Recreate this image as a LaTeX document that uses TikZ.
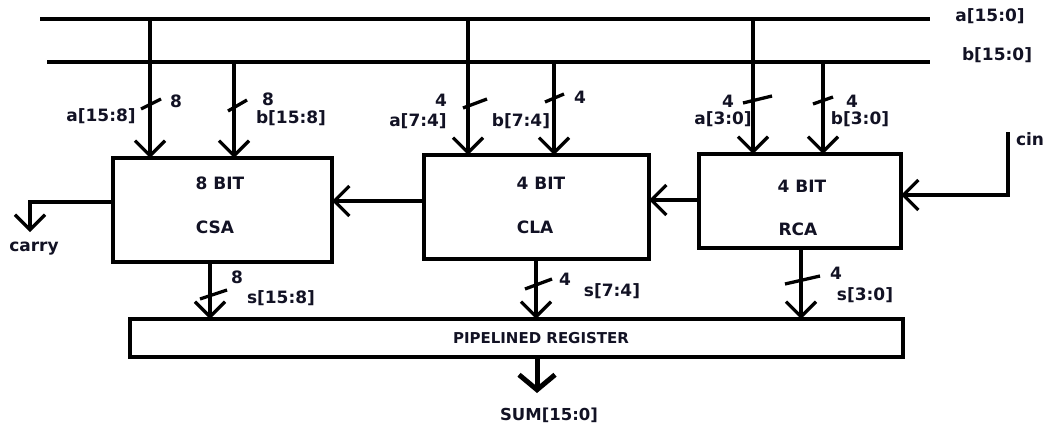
\documentclass[tikz,border=0pt]{standalone}
\usepackage{fontspec}
\setmainfont{DejaVu Sans}
\usetikzlibrary{arrows.meta}
\definecolor{ink}{rgb}{0.07,0.07,0.14}
\begin{document}
\begin{tikzpicture}[x=1pt,y=-1pt,line width=3.3pt,
  arr/.style={-{Straight Barb[length=15pt,width=30pt,line width=3.3pt]}},
  bigarr/.style={line width=5pt,-{Straight Barb[length=15pt,width=36pt,line width=5pt]}},
  blk/.style={draw,line width=3.3pt,inner sep=0pt,outer sep=0pt,anchor=north west},
  lbl/.style={font=\fontsize{17}{20}\selectfont\bfseries,text=ink,inner sep=0pt},
  reglbl/.style={font=\fontsize{15}{18}\selectfont\bfseries,text=ink,inner sep=0pt},
  sumlbl/.style={font=\fontsize{16.5}{19}\selectfont\bfseries,text=ink,inner sep=0pt},
  slash/.style={line width=3.3pt}]
\useasboundingbox (0,0) rectangle (1046,428);

% buses
\coordinate (aL) at (40,19);
\coordinate (aR) at (930,19);
\coordinate (bL) at (47,62);
\coordinate (bR) at (930,62);
\draw (aL) -- (aR);
\draw (bL) -- (bR);
\node[lbl] (alab) at (990,16) {a[15:0]};
\node[lbl] (blab) at (997,55) {b[15:0]};

% blocks
\node[blk,minimum width=219pt,minimum height=104pt] (csa) at (113,158) {};
\node[blk,minimum width=225pt,minimum height=104pt] (cla) at (424,155) {};
\node[blk,minimum width=202pt,minimum height=94pt] (rca) at (699,154) {};
\node[blk,minimum width=773pt,minimum height=38pt] (reg) at (130,319) {};

\node[lbl] (csa1) at (220,183) {8 BIT};
\node[lbl] (csa2) at (215,227) {CSA};
\node[lbl] (cla1) at (541,183) {4 BIT};
\node[lbl] (cla2) at (535,227) {CLA};
\node[lbl] (rca1) at (802,186) {4 BIT};
\node[lbl] (rca2) at (798,229) {RCA};
\node[reglbl] (regl) at (541,338) {PIPELINED REGISTER};

% inputs
\coordinate (ia1) at (150,19);
\coordinate (ib1) at (234,62);
\coordinate (ia2) at (468,19);
\coordinate (ib2) at (554,62);
\coordinate (ia3) at (753,19);
\coordinate (ib3) at (823,62);
\draw[arr] (ia1) -- (ia1 |- csa.north);
\draw[arr] (ib1) -- (ib1 |- csa.north);
\draw[arr] (ia2) -- (ia2 |- cla.north);
\draw[arr] (ib2) -- (ib2 |- cla.north);
\draw[arr] (ia3) -- (ia3 |- rca.north);
\draw[arr] (ib3) -- (ib3 |- rca.north);

% input slashes
\draw[slash] (141,109) -- (161,99);
\draw[slash] (228,111) -- (247,100);
\draw[slash] (463,108) -- (487,99);
\draw[slash] (545,102) -- (564,94);
\draw[slash] (743,103) -- (772,96);
\draw[slash] (813,104) -- (833,97);

\node[lbl] (n1) at (176,101) {8};
\node[lbl] (la1) at (101,116) {a[15:8]};
\node[lbl] (n2) at (268,99) {8};
\node[lbl] (lb1) at (291,118) {b[15:8]};
\node[lbl] (n3) at (441,100) {4};
\node[lbl] (la2) at (418,121) {a[7:4]};
\node[lbl] (n4) at (580,97) {4};
\node[lbl] (lb2) at (521,121) {b[7:4]};
\node[lbl] (n5) at (728,101) {4};
\node[lbl] (la3) at (723,119) {a[3:0]};
\node[lbl] (n6) at (852,101) {4};
\node[lbl] (lb3) at (860,119) {b[3:0]};

% carry chain
\coordinate (c1) at (649,200);
\draw[arr] (c1 -| rca.west) -- (c1);
\coordinate (c2) at (332,201);
\draw[arr] (c2 -| cla.west) -- (c2);
\coordinate (cinT) at (1008,132);
\coordinate (cinB) at (1008,195);
\draw[arr] (cinT) -- (cinB) -- (cinB -| rca.east);
\node[lbl] (cinl) at (1030,139) {cin};
\coordinate (co1) at (30,202);
\coordinate (co2) at (30,232);
\draw[arr] (co1 -| csa.west) -- (co1) -- (co2);
\node[lbl] (carryl) at (34,249) {carry};

% outputs
\coordinate (o1) at (210,262);
\coordinate (o2) at (536,259);
\coordinate (o3) at (801,248);
\draw[arr] (o1) -- (o1 |- reg.north);
\draw[arr] (o2) -- (o2 |- reg.north);
\draw[arr] (o3) -- (o3 |- reg.north);
\draw[slash] (200,299) -- (227,290);
\draw[slash] (525,289) -- (552,279);
\draw[slash] (785,284) -- (820,276);
\node[lbl] (n7) at (237,277) {8};
\node[lbl] (s1) at (281,298) {s[15:8]};
\node[lbl] (n8) at (565,279) {4};
\node[lbl] (s2) at (612,291) {s[7:4]};
\node[lbl] (n9) at (836,273) {4};
\node[lbl] (s3) at (865,295) {s[3:0]};

% sum
\coordinate (sumEnd) at (537,393);
\draw[bigarr] (sumEnd |- reg.south) -- (sumEnd);
\node[sumlbl] (suml) at (549,415) {SUM[15:0]};
\end{tikzpicture}
\end{document}
